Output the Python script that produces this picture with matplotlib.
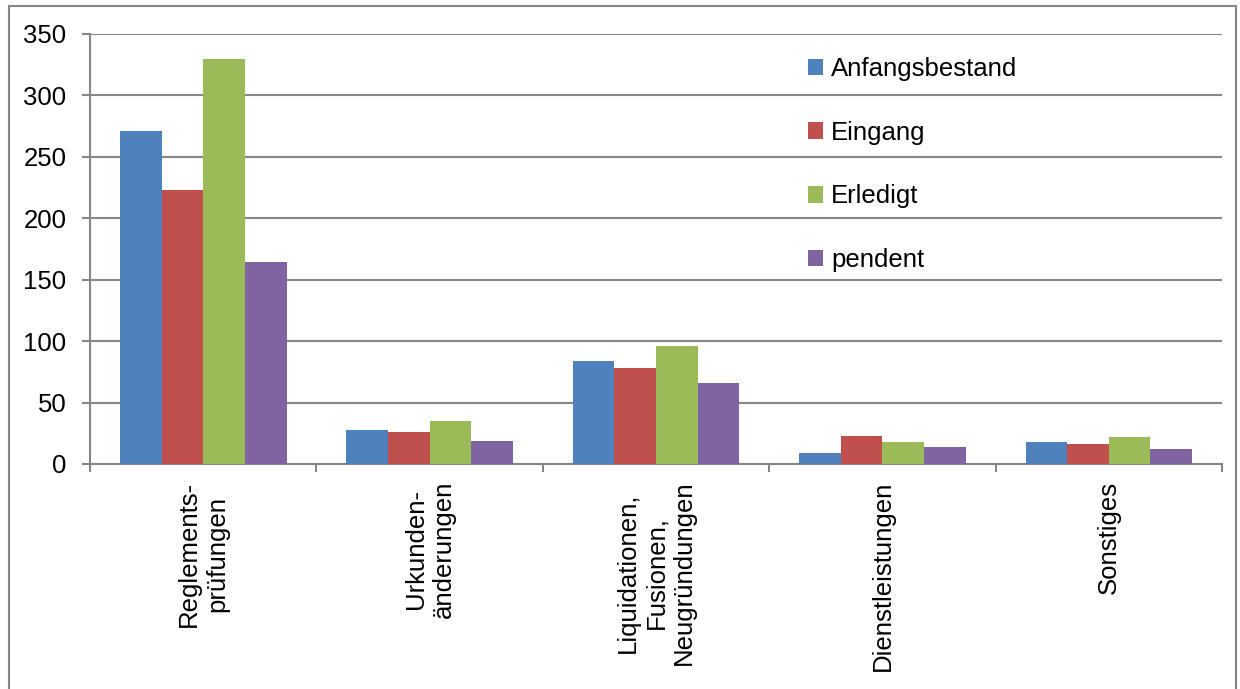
#!/usr/bin/env python3
"""Grouped bar chart: Geschäftsfälle nach Kategorie."""

import matplotlib.pyplot as plt
from matplotlib.patches import Rectangle
import numpy as np

plt.rcParams['font.family'] = ['Liberation Sans', 'DejaVu Sans']

categories = ['Reglements-\nprüfungen', 'Urkunden-\nänderungen',
              'Liquidationen,\nFusionen,\nNeugründungen',
              'Dienstleistungen', 'Sonstiges']
series_names = ['Anfangsbestand', 'Eingang', 'Erledigt', 'pendent']
anfangsbestand = [271, 28, 84, 9, 18]
eingang = [223, 26, 78, 23, 16]
erledigt = [330, 35, 96, 18, 22]
pendent = [164, 19, 66, 14, 12]
colors = ['#4F81BD', '#C0504D', '#9BBB59', '#8064A2']

GRID = '#868686'
FS = 18.5

fig = plt.figure(figsize=(12.4, 6.89), dpi=100)
ax = fig.add_axes([0.0726, 0.3266, 0.9129, 0.6241])

x = np.arange(len(categories))
width = 0.184
for i, (vals, name) in enumerate(zip([anfangsbestand, eingang, erledigt, pendent],
                                     series_names)):
    ax.bar(x + (i - 1.5) * width, vals, width, color=colors[i], label=name,
           zorder=3)

ax.set_xlim(-0.5, len(categories) - 0.5)
ax.set_ylim(0, 350)
ax.set_yticks(range(0, 351, 50))
ax.grid(axis='y', color=GRID, linewidth=1.5, zorder=0)

ax.set_xticks(x)
ax.set_xticklabels(categories, rotation=90, ha='center', va='top',
                   multialignment='center', fontsize=FS)
ax.set_xticks(np.arange(-0.5, len(categories)), minor=True)
ax.tick_params(axis='x', which='major', length=0, pad=12)
ax.tick_params(axis='x', which='minor', length=6, width=1.5, color=GRID,
               direction='out')
ax.tick_params(axis='y', length=6, width=1.5, color=GRID, pad=11,
               labelsize=FS)

for side in ['top', 'right']:
    ax.spines[side].set_visible(False)
for side in ['left', 'bottom']:
    ax.spines[side].set_color(GRID)
    ax.spines[side].set_linewidth(1.5)

ax.legend(loc='upper left', bbox_to_anchor=(0.634, 0.947), frameon=False,
          fontsize=FS, handlelength=0.6, handleheight=0.6, handletextpad=0.3,
          labelspacing=1.55, borderpad=0, borderaxespad=0)

# outer chart border
fig.patches.append(Rectangle((9 / 1240, -0.01), 1227 / 1240, 1 - 6 / 689 + 0.01,
                             transform=fig.transFigure, fill=False,
                             edgecolor=GRID, linewidth=1.5))

fig.savefig('out.png', dpi=100)
